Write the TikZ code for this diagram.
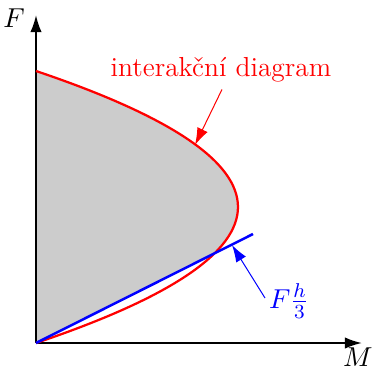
\documentclass[tikz,border=0pt]{standalone}
\usepackage{amsmath}
\usepackage{tikz}
\usetikzlibrary{arrows.meta,positioning,calc}
\definecolor{FillGray}{RGB}{204,204,204}
\tikzset{
  axis/.style   ={-{Latex[length=2.4mm,width=1.6mm]}, draw=black, line width=.8pt},
  curve/.style  ={draw=red, line width=.9pt},
  tang/.style   ={draw=blue, line width=1pt},
  arr/.style    ={-{Latex[length=2.4mm,width=1.6mm]}, line width=.4pt},
  lbl/.style    ={inner sep=1pt, font=\fontsize{11}{13}\selectfont},
}
\begin{document}
\begin{tikzpicture}[x=0.4pt,y=0.4pt]
  \useasboundingbox (-36,-26) rectangle (337,343);

  % gray region: inside the curve, above the line
  \begin{scope}
    \clip (0,0) -- (434,218) -- (434,300) -- (0,300) -- cycle;
    \fill[FillGray] (0,0) .. controls (269.3,90.7) and (269.3,181.3) .. (0,272) -- cycle;
  \end{scope}

  \coordinate (o) at (0,0);
  \coordinate (xe) at (326,0);
  \coordinate (ye) at (0,328);
  \draw[axis] (o) -- (xe);
  \draw[axis] (o) -- (ye);
  \node[lbl] (lf) at (-22,325) {$F$};
  \node[lbl] (lm) at (322,-14) {$M$};

  \draw[curve] (o) .. controls (269.3,90.7) and (269.3,181.3) .. (0,272);
  \coordinate (te) at (217,109);
  \draw[tang] (o) -- (te);

  \node[lbl,text=red] (li) at (185,273) {interakční diagram};
  \coordinate (pi) at (159,198);
  \draw[arr,red] (li.south) ++(1,-4) -- (pi);

  \node[lbl,text=blue,anchor=west] (lt) at (230,42) {$F\frac{h}{3}$};
  \coordinate (pt) at (196,98);
  \draw[arr,blue] ($(lt.west)+(-1,3)$) -- (pt);
\end{tikzpicture}
\end{document}
